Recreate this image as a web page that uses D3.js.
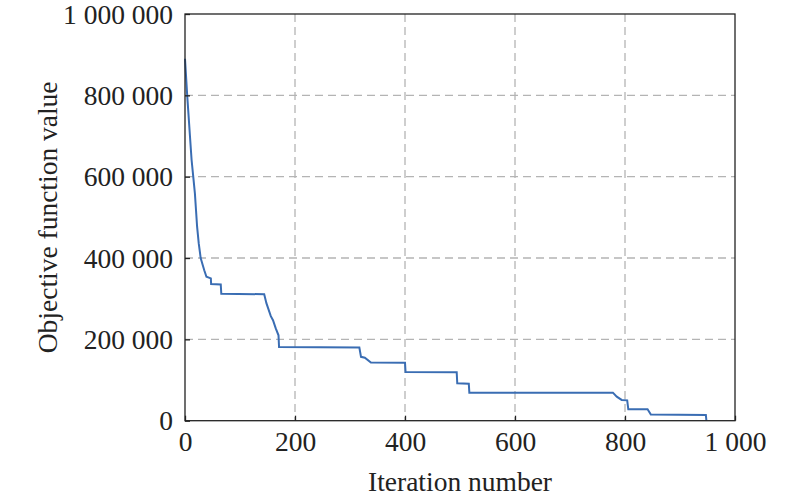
<!DOCTYPE html>
<html><head><meta charset="utf-8">
<script src="https://cdn.jsdelivr.net/npm/d3@7"></script>
<style>body{margin:0;background:#fff}</style>
</head><body>
<svg id="c" width="800" height="499"></svg>
<script>
const iterations = [0,4,9,12,15,18,20,22,25,28.5,33,35,39,47,47.5,65,66,144,148,156,160,165,170,171,317,320,327,338,400,401,494,495,516,517,778,785,794,804,806,841,847,947,948];
const objective  = [890000,800000,700000,641000,600000,559000,518000,477000,436000,400000,379000,370000,354000,350000,336000,335000,312000,311000,289000,257000,247000,227000,210000,181000,180000,157000,155000,143000,142600,120000,119000,92000,91000,69000,69000,59000,51000,50000,28000,28000,15000,14000,0];
const xTicks = [0,200,400,600,800,1000];
const yTicks = [0,200000,400000,600000,800000,1000000];

const svg = d3.select("#c");
const L=185, R=735, T=14, B=420.7;
const x = d3.scaleLinear().domain([0,1000]).range([L,R]);
const y = d3.scaleLinear().domain([0,1000000]).range([B,T]);
const fmt = v => d3.format(",")(v).replace(/,/g," ");
const font = "'Liberation Serif','Times New Roman',serif";
const fs = 27.5;

// grid
svg.append("g").selectAll("line").data(xTicks.filter(d=>d>0&&d<1000)).join("line")
  .attr("x1",d=>x(d)).attr("x2",d=>x(d)).attr("y1",T).attr("y2",B)
  .attr("stroke","#b4b4b4").attr("stroke-width",1.3).attr("stroke-dasharray","8,5");
svg.append("g").selectAll("line").data(yTicks.filter(d=>d>0&&d<1000000)).join("line")
  .attr("y1",d=>y(d)).attr("y2",d=>y(d)).attr("x1",L).attr("x2",R)
  .attr("stroke","#b4b4b4").attr("stroke-width",1.3).attr("stroke-dasharray","8,5");

// line
const line = d3.line().x((d,i)=>x(iterations[i])).y(d=>y(d));
svg.append("path").datum(objective).attr("d",line)
  .attr("fill","none").attr("stroke","#3a6db3").attr("stroke-width",2);

// axes
const xAxis = d3.axisBottom(x).tickValues(xTicks).tickFormat(fmt).tickSizeInner(-5).tickSizeOuter(0).tickPadding(11);
const yAxis = d3.axisLeft(y).tickValues(yTicks).tickFormat(fmt).tickSizeInner(-5).tickSizeOuter(0).tickPadding(12);
const gx = svg.append("g").attr("transform",`translate(0,${B})`).call(xAxis);
const gy = svg.append("g").attr("transform",`translate(${L},0)`).call(yAxis);
[gx,gy].forEach(g=>{
  g.select(".domain").remove();
  g.selectAll(".tick line").attr("stroke","#222").attr("stroke-width",1.3);
  g.selectAll(".tick text").attr("font-family",font).attr("font-size",fs).attr("fill","#222");
});
gy.selectAll(".tick text").attr("dy","0.33em");

// frame
svg.append("rect").attr("x",L).attr("y",T).attr("width",R-L).attr("height",B-T)
  .attr("fill","none").attr("stroke","#222").attr("stroke-width",1.3);

// labels
svg.append("text").attr("x",(L+R)/2).attr("y",491).attr("text-anchor","middle")
  .attr("font-family",font).attr("font-size",fs).attr("fill","#222").text("Iteration number");
svg.append("text").attr("transform",`translate(57,${(T+B)/2}) rotate(-90)`).attr("text-anchor","middle")
  .attr("font-family",font).attr("font-size",fs).attr("fill","#222").text("Objective function value");
</script>
</body></html>
